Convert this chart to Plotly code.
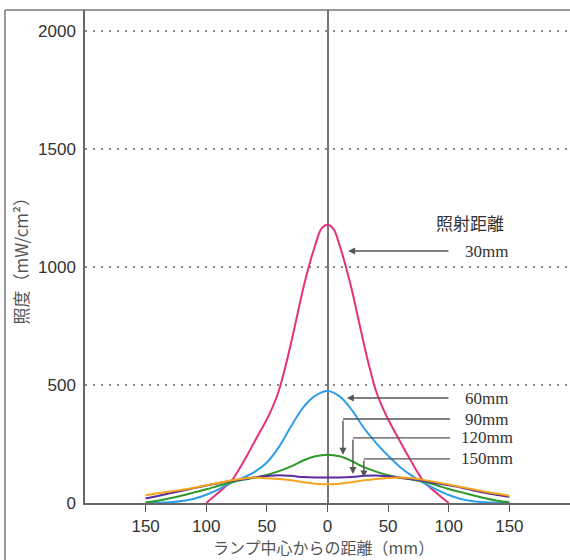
import numpy as np
import plotly.graph_objects as go

# distance from lamp centre (mm)
x_all = [-150, -140, -130, -120, -110, -100, -90, -80, -70, -60, -50, -40, -30, -20, -10,
         0, 10, 20, 30, 40, 50, 60, 70, 80, 90, 100, 110, 120, 130, 140, 150]
x_30 = [-100, -95, -90, -85, -80, -75, -70, -65, -60, -55, -50, -45, -40, -35, -30, -25, -20,
        -15, -10, -5, 0, 5, 10, 15, 20, 25, 30, 35, 40, 45, 50, 55, 60, 65, 70, 75, 80, 85,
        90, 95, 100]

# irradiance (mW/cm2) for each irradiation distance
y_30 = [0, 22, 44, 66, 88, 125, 168, 214, 262, 308, 355, 410, 478, 572, 680, 795, 910,
        1010, 1095, 1163, 1180, 1161, 1092, 1005, 905, 790, 675, 568, 475, 410, 355, 306,
        260, 213, 168, 124, 87, 64, 42, 20, 0]
y_60 = [0, 1, 3, 8, 18, 35, 58, 84, 106, 132, 172, 238, 325, 405, 455,
        475, 452, 395, 318, 255, 200, 152, 114, 83, 57, 34, 17, 7, 3, 1, 0]
y_90 = [3, 10, 20, 32, 45, 58, 73, 87, 98, 108, 119, 135, 155, 180, 198,
        205, 198, 178, 152, 133, 118, 107, 99, 90, 75, 59, 46, 33, 20, 10, 4]
y_120 = [20, 30, 41, 52, 63, 74, 84, 93, 101, 108, 114, 118, 115, 110, 108,
         108, 108, 110, 115, 117, 113, 107, 101, 93, 84, 75, 66, 54, 43, 34, 26]
y_150 = [33, 41, 49, 56, 65, 75, 85, 95, 103, 108, 105, 102, 96, 88, 82,
         79, 82, 88, 96, 102, 106, 108, 105, 97, 88, 78, 68, 58, 48, 39, 31]

tick_vals = [-150, -100, -50, 0, 50, 100, 150]
tick_text = ["150", "100", "50", "0", "50", "100", "150"]

labels = ["30mm", "60mm", "90mm", "120mm", "150mm"]
label_y = [1068, 445, 356, 276, 187]
# where each leader line turns down / points at its curve
arrow_x = [17, 16, 12.8, 21, 30]

series = [
    (x_30, y_30, "#e8307c"),
    (x_all, y_60, "#2f9ee8"),
    (x_all, y_90, "#2e9a2a"),
    (x_all, y_120, "#5b2d9e"),
    (x_all, y_150, "#f5a41e"),
]

fig = go.Figure()
for (xs, ys, color), name in zip(series, labels):
    fig.add_trace(go.Scatter(x=xs, y=ys, mode="lines", name=name,
                             line=dict(color=color, width=2, shape="spline", smoothing=1.0)))

serif = dict(family="Liberation Serif", size=17, color="#333")
annotations = [
    dict(x=117.5, y=1191, text="照射距離", showarrow=False,
         font=dict(family="Noto Sans CJK JP", size=17, color="#333")),
]
shapes = []
gray = "#555"
curves = [y_30, y_60, y_90, y_120, y_150]
xs_list = [x_30, x_all, x_all, x_all, x_all]
for i, (lab, ly, axp) in enumerate(zip(labels, label_y, arrow_x)):
    annotations.append(dict(x=131.5, y=ly, text=lab, showarrow=False, font=serif))
    if i < 2:
        annotations.append(dict(x=axp, y=ly, ax=101, ay=ly, axref="x", ayref="y",
                                text="", showarrow=True, arrowhead=2, arrowsize=1,
                                arrowwidth=1.4, arrowcolor=gray))
    else:
        tip = float(np.interp(axp, xs_list[i], curves[i])) + 12
        shapes.append(dict(type="line", x0=101, x1=axp, y0=ly, y1=ly,
                           line=dict(color=gray, width=1.4)))
        annotations.append(dict(x=axp, y=tip, ax=axp, ay=ly, axref="x", ayref="y",
                                text="", showarrow=True, arrowhead=2, arrowsize=1,
                                arrowwidth=1.4, arrowcolor=gray))

annotations.append(dict(x=-3, y=-0.0885, xref="x", yref="paper",
                        text="ランプ中心からの距離（mm）",
                        showarrow=False, yanchor="middle", xanchor="center", borderpad=0,
                        font=dict(family="Noto Sans CJK JP", size=16, color="#555")))
annotations.append(dict(x=-0.134, y=0.5, xref="paper", yref="paper",
                        text="照度（mW/cm²）",
                        showarrow=False, textangle=-90, xanchor="center", yanchor="middle",
                        font=dict(family="Noto Sans CJK JP", size=17, color="#555")))

# outer frame
shapes.append(dict(type="line", xref="paper", yref="paper", x0=-0.165, x1=1.0, y0=1, y1=1,
                   line=dict(color="#777", width=1.5)))
shapes.append(dict(type="line", xref="paper", yref="paper", x0=-0.165, x1=-0.165, y0=1, y1=-0.2,
                   line=dict(color="#777", width=1.5)))

fig.update_layout(
    width=570, height=560,
    margin=dict(l=85, r=0, t=10, b=57),
    paper_bgcolor="white", plot_bgcolor="white",
    showlegend=False,
    annotations=annotations,
    shapes=shapes,
    font=dict(family="Liberation Sans", size=17, color="#333"),
    xaxis=dict(range=[-200, 200], tickvals=tick_vals, ticktext=tick_text,
               ticks="outside", ticklen=7, tickcolor="#555", tickwidth=1.2,
               showgrid=False, showline=True, linecolor="#666", linewidth=1.5,
               zeroline=True, zerolinecolor="#777", zerolinewidth=1.5),
    yaxis=dict(range=[0, 2090], tickvals=[0, 500, 1000, 1500, 2000],
               showgrid=True, gridcolor="#888", griddash="2px,6px", gridwidth=1.5,
               showline=True, linecolor="#666", linewidth=1.5,
               zeroline=False, ticks="", ticklabelstandoff=4),
)

fig.write_html("out.html", config={"displayModeBar": False},
               post_script="document.body.style.margin='0';")
